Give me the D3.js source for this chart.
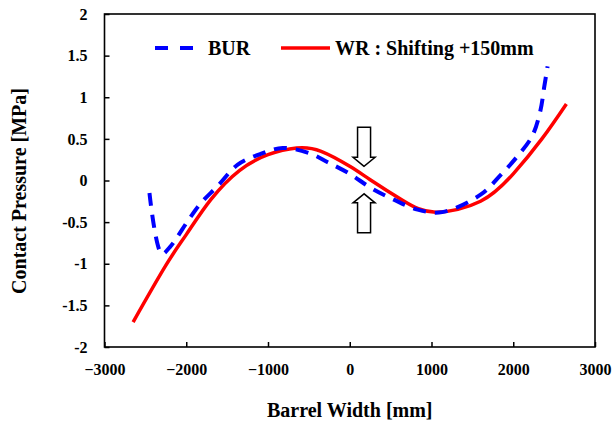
<!DOCTYPE html>
<html>
<head>
<meta charset="utf-8">
<script src="https://cdn.jsdelivr.net/npm/d3@7"></script>
<style>
  body { margin: 0; background: #fff; }
  text { font-family: "Liberation Serif", "Times New Roman", serif; font-weight: bold; fill: #000; }
</style>
</head>
<body>
<div id="chart"></div>
<script>
// BUR (backup roll) contact pressure
const burX = [-2450, -2300, -2200, -1970, -1820, -1620, -1370, -1090, -820, -500, -270, 0, 260, 540, 830, 1130, 1600, 1850, 2050, 2230, 2330, 2380, 2420];
const burY = [-0.15, -0.88, -0.80, -0.47, -0.27, -0.07, 0.19, 0.32, 0.39, 0.33, 0.22, 0.08, -0.09, -0.23, -0.35, -0.38, -0.17, 0.07, 0.29, 0.53, 0.83, 1.13, 1.37];

// WR (work roll) shifted +150mm
const wrX = [-2650, -2250, -2000, -1700, -1350, -1000, -650, -350, 0, 250, 650, 1050, 1600, 2000, 2350, 2650];
const wrY = [-1.70, -1.02, -0.65, -0.23, 0.12, 0.31, 0.39, 0.35, 0.17, 0.01, -0.24, -0.38, -0.25, 0.08, 0.50, 0.92];

const xTicks = [-3000, -2000, -1000, 0, 1000, 2000, 3000];
const yTicks = [-2, -1.5, -1, -0.5, 0, 0.5, 1, 1.5, 2];

const seriesNames = ["BUR", "WR : Shifting +150mm"];
const arrowX = 175;       // mm, where the two arrows point
const arrowTips = [0.17, -0.16];

const width = 616, height = 426;
const margin = {top: 14, right: 21, bottom: 79, left: 104.5};

const svg = d3.select("#chart").append("svg")
  .attr("width", width)
  .attr("height", height);

const x = d3.scaleLinear().domain([-3000, 3000]).range([margin.left, width - margin.right]);
const y = d3.scaleLinear().domain([-2, 2]).range([height - margin.bottom, margin.top]);

// frame
svg.append("rect")
  .attr("x", x(-3000)).attr("y", y(2))
  .attr("width", x(3000) - x(-3000)).attr("height", y(-2) - y(2))
  .attr("fill", "none").attr("stroke", "#000").attr("stroke-width", 1.6);

// x axis, ticks pointing in
const xAxis = svg.append("g")
  .attr("transform", "translate(0," + y(-2) + ")")
  .call(d3.axisBottom(x).tickValues(xTicks).tickSize(-5).tickPadding(17).tickFormat(d3.format("d")));
xAxis.select(".domain").remove();
xAxis.selectAll("line").attr("stroke-width", 1.5);
xAxis.selectAll("text").style("font-size", "16px").attr("fill", "#000");

const yAxis = svg.append("g")
  .attr("transform", "translate(" + x(-3000) + ",0)")
  .call(d3.axisLeft(y).tickValues(yTicks).tickSize(-5).tickPadding(17).tickFormat(d => d === 0 ? "0" : String(d)));
yAxis.select(".domain").remove();
yAxis.selectAll("line").attr("stroke-width", 1.5);
yAxis.selectAll("text").style("font-size", "16px").attr("fill", "#000");

// axis titles
svg.append("text")
  .attr("x", x(0)).attr("y", 417)
  .attr("text-anchor", "middle")
  .style("font-size", "20px")
  .text("Barrel Width [mm]");

svg.append("text")
  .attr("transform", "translate(26," + 191 + ") rotate(-90)")
  .attr("text-anchor", "middle")
  .style("font-size", "20px")
  .text("Contact Pressure [MPa]");

const wrLine = d3.line()
  .x(d => x(d[0]))
  .y(d => y(d[1]))
  .curve(d3.curveNatural);

const burLine = d3.line()
  .x(d => x(d[0]))
  .y(d => y(d[1]))
  .curve(d3.curveCatmullRom.alpha(0.5));

svg.append("path")
  .datum(wrX.map((v, i) => [v, wrY[i]]))
  .attr("d", wrLine)
  .attr("fill", "none")
  .attr("stroke", "#ff0000")
  .attr("stroke-width", 3.5);

svg.append("path")
  .datum(burX.map((v, i) => [v, burY[i]]))
  .attr("d", burLine)
  .attr("fill", "none")
  .attr("stroke", "#0000ff")
  .attr("stroke-width", 4)
  .attr("stroke-dasharray", "13,9");

// open arrows pointing at the curves
function arrowPath(cx, tipY, dir) {
  // dir = 1 points down, -1 points up
  const hw = 11, sw = 6.5, headLen = 9 * dir, shaftLen = 30 * dir;
  const base = tipY - headLen;
  const tail = base - shaftLen;
  return "M" + cx + "," + tipY +
    "L" + (cx - hw) + "," + base +
    "L" + (cx - sw) + "," + base +
    "L" + (cx - sw) + "," + tail +
    "L" + (cx + sw) + "," + tail +
    "L" + (cx + sw) + "," + base +
    "L" + (cx + hw) + "," + base + "Z";
}
svg.append("g").selectAll("path")
  .data(arrowTips)
  .enter()
  .append("path")
  .attr("d", (d, i) => arrowPath(x(arrowX), y(d), i === 0 ? 1 : -1))
  .attr("fill", "#fff")
  .attr("stroke", "#000")
  .attr("stroke-width", 1.5);

// legend
const lg = svg.append("g");
lg.append("line")
  .attr("x1", 155).attr("x2", 194).attr("y1", 48).attr("y2", 48)
  .attr("stroke", "#0000ff").attr("stroke-width", 4).attr("stroke-dasharray", "13,12");
lg.append("text").attr("x", 208).attr("y", 55).style("font-size", "20px").text(seriesNames[0]);
lg.append("line")
  .attr("x1", 281).attr("x2", 330).attr("y1", 48).attr("y2", 48)
  .attr("stroke", "#ff0000").attr("stroke-width", 3.5);
lg.append("text").attr("x", 335).attr("y", 55).style("font-size", "20px").text(seriesNames[1]);
</script>
</body>
</html>
